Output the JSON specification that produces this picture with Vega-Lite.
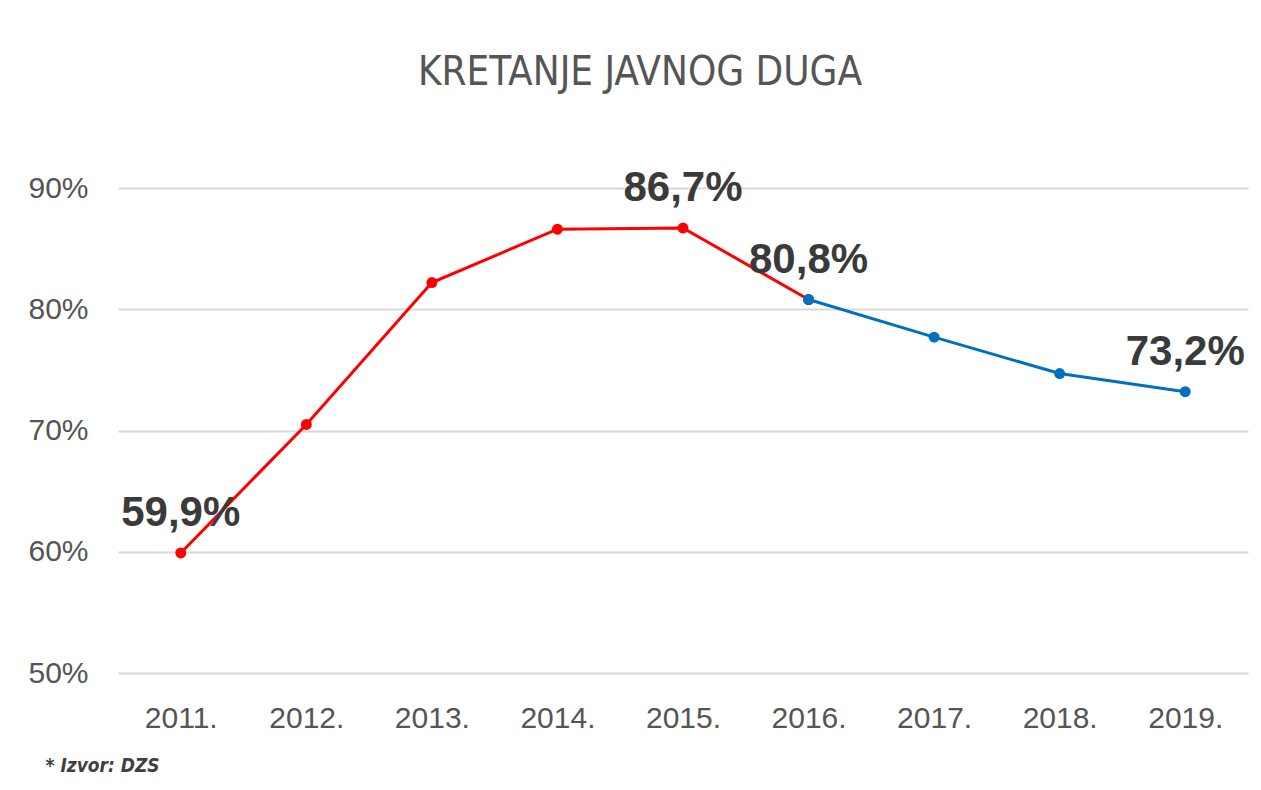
{
  "$schema": "https://vega.github.io/schema/vega-lite/v6.json",
  "autosize": {"type": "none"},
  "width": 1130,
  "height": 485,
  "padding": {"left": 118, "top": 188, "right": 13, "bottom": 117},
  "background": "#ffffff",
  "title": {
    "text": "KRETANJE JAVNOG DUGA",
    "font": "DejaVu Sans Condensed",
    "fontSize": 40,
    "fontWeight": 500,
    "color": "#555555",
    "anchor": "middle",
    "dx": -43,
    "offset": 74
  },
  "data": {
    "values": [
      {"year": "2011.", "value": 59.9, "series": "red", "label": "59,9%"},
      {"year": "2012.", "value": 70.5, "series": "red", "label": ""},
      {"year": "2013.", "value": 82.2, "series": "red", "label": ""},
      {"year": "2014.", "value": 86.6, "series": "red", "label": ""},
      {"year": "2015.", "value": 86.7, "series": "red", "label": "86,7%"},
      {"year": "2016.", "value": 80.8, "series": "red", "label": ""},
      {"year": "2016.", "value": 80.8, "series": "blue", "label": "80,8%"},
      {"year": "2017.", "value": 77.7, "series": "blue", "label": ""},
      {"year": "2018.", "value": 74.7, "series": "blue", "label": ""},
      {"year": "2019.", "value": 73.2, "series": "blue", "label": "73,2%"}
    ]
  },
  "encoding": {
    "x": {
      "field": "year",
      "type": "ordinal",
      "scale": {"type": "point", "padding": 0.5},
      "axis": {
        "title": "* Izvor: DZS",
        "titleFont": "DejaVu Sans Condensed",
        "titleFontStyle": "italic",
        "titleFontWeight": "bold",
        "titleFontSize": 19,
        "titleColor": "#404040",
        "titleAnchor": "start",
        "titleAlign": "left",
        "titleBaseline": "alphabetic",
        "titleX": -73,
        "titleY": 98,
        "labelAngle": 0,
        "labelFont": "Liberation Sans",
        "labelFontSize": 30,
        "labelColor": "#555555",
        "labelPadding": 30,
        "domain": false,
        "ticks": false,
        "grid": false
      }
    },
    "y": {
      "field": "value",
      "type": "quantitative",
      "scale": {"domain": [50, 90], "zero": false, "nice": false},
      "axis": {
        "title": null,
        "values": [50, 60, 70, 80, 90],
        "labelExpr": "datum.value + '%'",
        "labelFont": "Liberation Sans",
        "labelFontSize": 30,
        "labelColor": "#555555",
        "labelPadding": 30,
        "domain": false,
        "ticks": false,
        "grid": true,
        "gridColor": "#d9d9d9",
        "gridWidth": 2
      }
    },
    "color": {
      "field": "series",
      "type": "nominal",
      "scale": {"domain": ["red", "blue"], "range": ["#ff0000", "#0070c0"]},
      "legend": null
    }
  },
  "layer": [
    {"mark": {"type": "line", "strokeWidth": 3}},
    {"mark": {"type": "point", "filled": true, "opacity": 1, "size": 120}},
    {
      "transform": [{"filter": "datum.label != ''"}],
      "mark": {
        "type": "text",
        "font": "Liberation Sans",
        "fontWeight": "bold",
        "fontSize": 42,
        "align": "center",
        "baseline": "alphabetic",
        "dy": -27
      },
      "encoding": {
        "text": {"field": "label"},
        "color": {"value": "#3a3a3a"}
      }
    }
  ],
  "config": {"view": {"stroke": null}}
}
